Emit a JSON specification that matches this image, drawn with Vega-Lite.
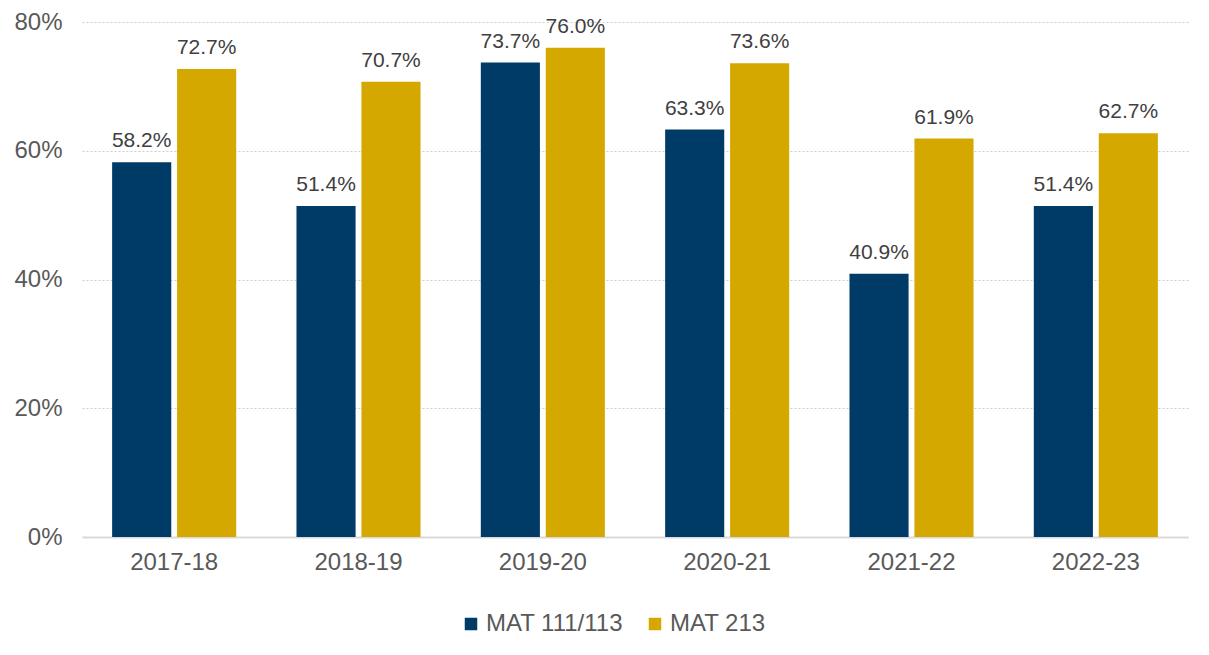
{
  "$schema": "https://vega.github.io/schema/vega-lite/v6.json",
  "width": 1106,
  "height": 515,
  "autosize": {"type": "none"},
  "padding": {"left": 82, "top": 22, "right": 21, "bottom": 118},
  "background": "white",
  "config": {
    "view": {"stroke": null},
    "font": "Liberation Sans",
    "text": {"font": "Liberation Sans"}
  },
  "data": {
    "values": [
      {"year": "2017-18", "course": "MAT 111/113", "rate": 0.582},
      {"year": "2017-18", "course": "MAT 213", "rate": 0.727},
      {"year": "2018-19", "course": "MAT 111/113", "rate": 0.514},
      {"year": "2018-19", "course": "MAT 213", "rate": 0.707},
      {"year": "2019-20", "course": "MAT 111/113", "rate": 0.737},
      {"year": "2019-20", "course": "MAT 213", "rate": 0.760},
      {"year": "2020-21", "course": "MAT 111/113", "rate": 0.633},
      {"year": "2020-21", "course": "MAT 213", "rate": 0.736},
      {"year": "2021-22", "course": "MAT 111/113", "rate": 0.409},
      {"year": "2021-22", "course": "MAT 213", "rate": 0.619},
      {"year": "2022-23", "course": "MAT 111/113", "rate": 0.514},
      {"year": "2022-23", "course": "MAT 213", "rate": 0.627}
    ]
  },
  "encoding": {
    "x": {
      "field": "year",
      "type": "nominal",
      "sort": null,
      "scale": {"paddingInner": 0.327, "paddingOuter": 0.1635},
      "axis": {
        "title": null,
        "labelAngle": 0,
        "labelFontSize": 24,
        "labelColor": "#595959",
        "labelFont": "Liberation Sans",
        "labelPadding": 13,
        "ticks": false,
        "domain": true,
        "domainColor": "#d9d9d9",
        "domainWidth": 2
      }
    },
    "xOffset": {
      "field": "course",
      "type": "nominal",
      "scale": {"paddingInner": 0.09, "paddingOuter": 0}
    },
    "y": {
      "field": "rate",
      "type": "quantitative",
      "scale": {"domain": [0, 0.8], "nice": false},
      "axis": {
        "title": null,
        "format": ".0%",
        "values": [0, 0.2, 0.4, 0.6, 0.8],
        "labelFontSize": 24,
        "labelColor": "#595959",
        "labelFont": "Liberation Sans",
        "labelPadding": 20,
        "ticks": false,
        "domain": false,
        "grid": true,
        "gridColor": "#cfcfcf",
        "gridDash": [2, 2],
        "gridWidth": 1
      }
    },
    "color": {
      "field": "course",
      "type": "nominal",
      "scale": {"domain": ["MAT 111/113", "MAT 213"], "range": ["#003A66", "#D5A800"]},
      "legend": {
        "title": null,
        "orient": "none",
        "legendX": 377,
        "legendY": 590,
        "direction": "horizontal",
        "symbolType": "square",
        "symbolSize": 156,
        "symbolStrokeWidth": 0,
        "labelFontSize": 24,
        "labelColor": "#595959",
        "labelFont": "Liberation Sans",
        "columnPadding": 20,
        "labelOffset": 3,
        "padding": 0
      }
    }
  },
  "layer": [
    {"mark": {"type": "bar", "strokeWidth": 0}},
    {
      "mark": {"type": "text", "baseline": "alphabetic", "dy": -15, "fontSize": 21, "font": "Liberation Sans"},
      "encoding": {
        "text": {"field": "rate", "type": "quantitative", "format": ".1%"},
        "color": {"value": "#404040"}
      }
    }
  ]
}
